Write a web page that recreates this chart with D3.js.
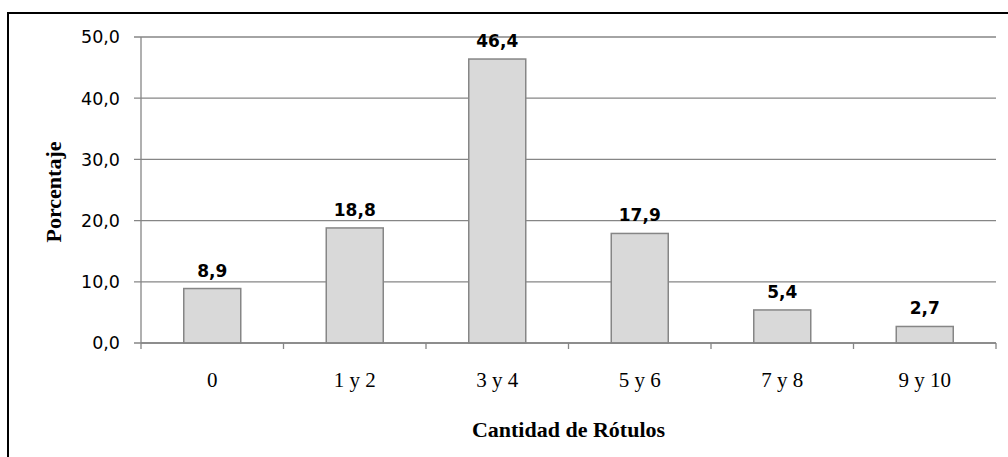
<!DOCTYPE html>
<html>
<head>
<meta charset="utf-8">
<script src="https://cdn.jsdelivr.net/npm/d3@7"></script>
<style>
  body { margin: 0; background: #fff; }
  svg { display: block; }
</style>
</head>
<body>
<div class="canvas"></div>
<script>
const categories = ['0', '1 y 2', '3 y 4', '5 y 6', '7 y 8', '9 y 10'];
const values = [8.9, 18.8, 46.4, 17.9, 5.4, 2.7];
const yTicks = [0, 10, 20, 30, 40, 50];

const dims = { width: 1008, height: 457 };
const plot = { left: 141, right: 996, top: 37, bottom: 343 };

const svg = d3.select('.canvas')
    .append('svg')
    .attr('width', dims.width)
    .attr('height', dims.height);

// outer frame (runs off the right and bottom)
svg.append('rect')
    .attr('x', 8).attr('y', 13)
    .attr('width', 1010).attr('height', 460)
    .attr('fill', 'none')
    .attr('stroke', '#000')
    .attr('stroke-width', 2);

const x = d3.scaleBand()
    .domain(categories)
    .range([plot.left, plot.right])
    .padding(0);

const y = d3.scaleLinear()
    .domain([0, 50])
    .range([plot.bottom, plot.top]);

const fmt = v => d3.format('.1f')(v).replace('.', ',');

// gridlines + y labels
const yAxis = svg.append('g');
yAxis.selectAll('line.grid')
    .data(yTicks)
    .enter().append('line')
    .attr('class', 'grid')
    .attr('x1', plot.left - 7).attr('x2', plot.right)
    .attr('y1', d => y(d)).attr('y2', d => y(d))
    .attr('stroke', '#868686')
    .attr('stroke-width', 1.3);

yAxis.selectAll('text')
    .data(yTicks)
    .enter().append('text')
    .attr('x', plot.left - 21)
    .attr('y', d => y(d))
    .attr('dy', '0.36em')
    .attr('text-anchor', 'end')
    .attr('font-family', 'DejaVu Sans, sans-serif')
    .attr('font-size', 17.5)
    .attr('fill', '#000')
    .text(fmt);

// y axis line
svg.append('line')
    .attr('x1', plot.left).attr('x2', plot.left)
    .attr('y1', plot.top).attr('y2', plot.bottom)
    .attr('stroke', '#868686')
    .attr('stroke-width', 1.3);

// bars
const barW = x.bandwidth() * 0.4;
svg.append('g').selectAll('rect')
    .data(values)
    .enter().append('rect')
    .attr('x', (d, i) => x(categories[i]) + (x.bandwidth() - barW) / 2)
    .attr('y', d => y(d))
    .attr('width', barW)
    .attr('height', d => y(0) - y(d))
    .attr('fill', '#d9d9d9')
    .attr('stroke', '#868686')
    .attr('stroke-width', 1.5);

// data labels
svg.append('g').selectAll('text')
    .data(values)
    .enter().append('text')
    .attr('x', (d, i) => x(categories[i]) + x.bandwidth() / 2)
    .attr('y', d => y(d) - 12)
    .attr('text-anchor', 'middle')
    .attr('font-family', 'DejaVu Sans, sans-serif')
    .attr('font-weight', 'bold')
    .attr('font-size', 17)
    .attr('fill', '#000')
    .text(fmt);

// x axis line + ticks
svg.append('line')
    .attr('x1', plot.left).attr('x2', plot.right)
    .attr('y1', plot.bottom).attr('y2', plot.bottom)
    .attr('stroke', '#868686')
    .attr('stroke-width', 1.3);

const tickPos = categories.map(c => x(c)).concat([plot.right]);
svg.append('g').selectAll('line')
    .data(tickPos)
    .enter().append('line')
    .attr('x1', d => d).attr('x2', d => d)
    .attr('y1', plot.bottom).attr('y2', plot.bottom + 6)
    .attr('stroke', '#868686')
    .attr('stroke-width', 1.3);

// category labels
svg.append('g').selectAll('text')
    .data(categories)
    .enter().append('text')
    .attr('x', d => x(d) + x.bandwidth() / 2)
    .attr('y', 387)
    .attr('text-anchor', 'middle')
    .attr('font-family', 'Liberation Serif, serif')
    .attr('font-size', 21)
    .attr('fill', '#000')
    .text(d => d);

// axis titles
svg.append('text')
    .attr('x', (plot.left + plot.right) / 2)
    .attr('y', 437)
    .attr('text-anchor', 'middle')
    .attr('font-family', 'Liberation Serif, serif')
    .attr('font-weight', 'bold')
    .attr('font-size', 22)
    .text('Cantidad de Rótulos');

svg.append('text')
    .attr('transform', `translate(61, 192) rotate(-90)`)
    .attr('text-anchor', 'middle')
    .attr('font-family', 'Liberation Serif, serif')
    .attr('font-weight', 'bold')
    .attr('font-size', 22)
    .text('Porcentaje');
</script>
</body>
</html>
